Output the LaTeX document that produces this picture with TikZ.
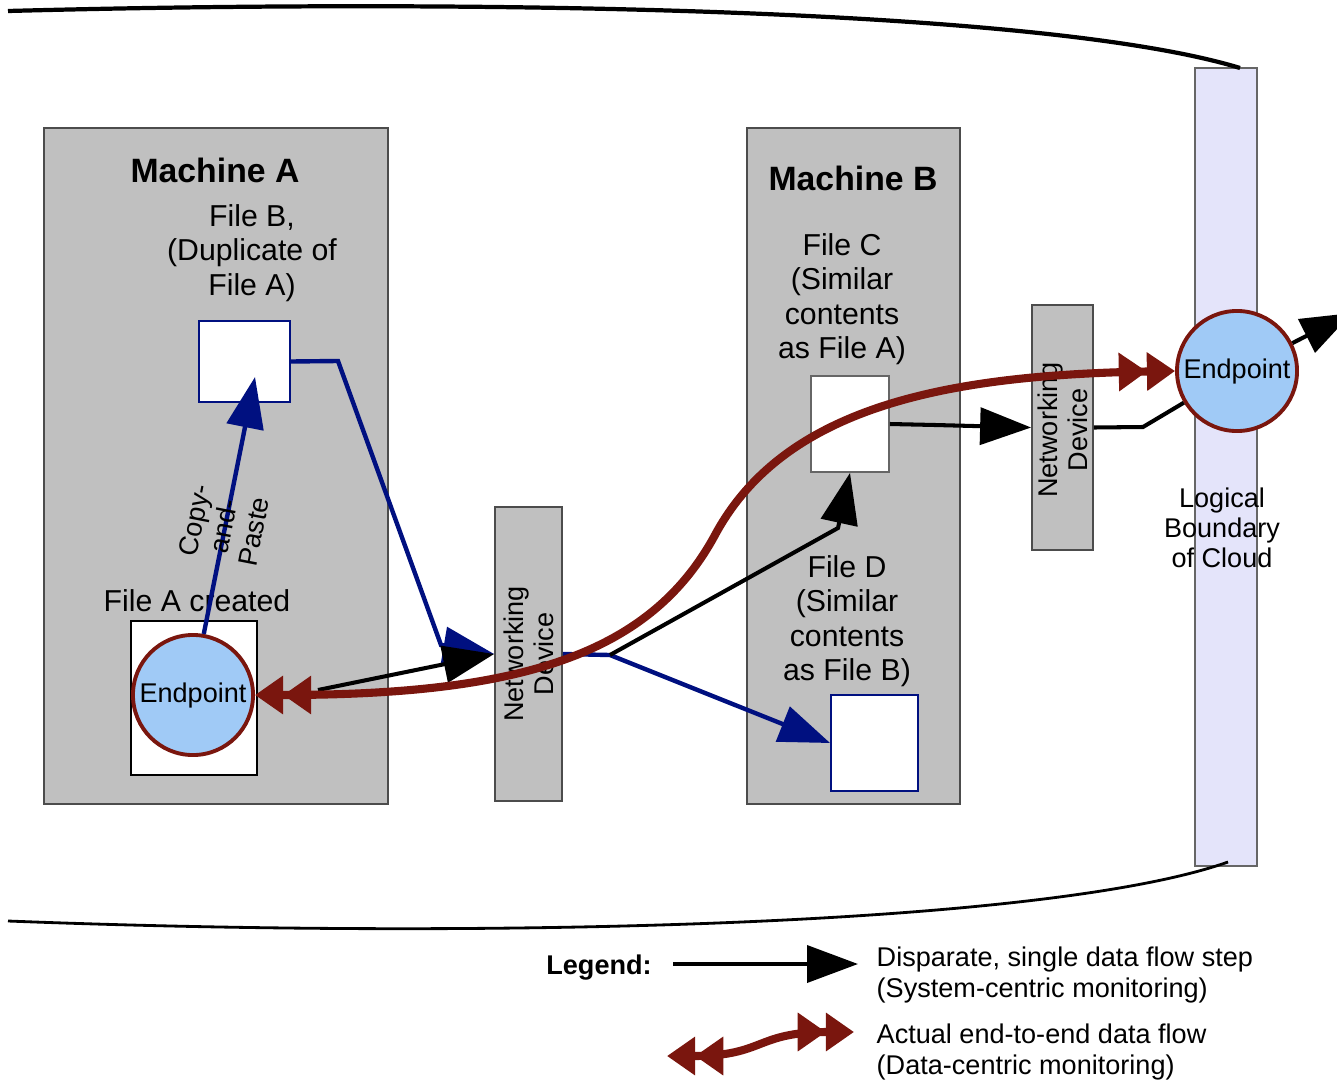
\documentclass[tikz,border=0pt]{standalone}
\usepackage{fontspec}
\setmainfont{Liberation Sans}
\usetikzlibrary{arrows.meta,calc}
\definecolor{boxgray}{RGB}{192,192,192}
\definecolor{epblue}{RGB}{160,202,246}
\definecolor{flowred}{RGB}{122,22,14}
\definecolor{navy}{RGB}{0,16,128}
\definecolor{cloudlav}{RGB}{228,228,250}
\newcommand{\txtmain}{\fontsize{8.6}{9.8}\selectfont}
\newcommand{\txtbig}{\fontsize{9.6}{11}\selectfont}
\newcommand{\txtsmall}{\fontsize{7.7}{8.6}\selectfont}

\tikzset{
  machine/.style={draw=black!70,fill=boxgray,line width=0.5pt,inner sep=0pt},
  filebox/.style={draw=#1,fill=white,line width=0.5pt,inner sep=0pt},
  endpoint/.style={circle,draw=flowred,fill=epblue,line width=1.1pt,
    minimum size=1.2cm,inner sep=0pt,font=\txtsmall},
  lbl/.style={inner sep=0pt,align=center,font=\txtmain},
  dbl/.tip={Triangle[length=8pt,width=10.5pt] Triangle[length=8pt,width=10.5pt]},
  sysflow/.style={draw=black,line width=1.15pt,-{Triangle[length=14.5pt,width=10.5pt]}},
  cpflow/.style={draw=navy,line width=1.25pt,-{Triangle[length=14.5pt,width=10.5pt]}},
  flow/.style={draw=flowred,line width=2.3pt,dbl-dbl}
}

\begin{document}
\begin{tikzpicture}[x=0.01cm,y=-0.01cm]
  \clip (0,0) rectangle (1337,1079);
  % cloud outline
  \node[draw=black!60,fill=cloudlav,line width=0.5pt,minimum width=0.62cm,minimum height=7.98cm] (cloud) at (1226,467) {};
  \draw[line width=1.2pt] (8,11) .. controls (500,-2) and (1050,10) .. (1240,68);
  \draw[line width=0.8pt] (8,921) .. controls (500,940) and (1050,925) .. (1228,862);
  \node[inner sep=0pt,align=center,font=\txtsmall] (cloudlbl) at (1222,528) {Logical\\Boundary\\of Cloud};

  % machines and devices
  \node[machine,minimum width=3.44cm,minimum height=6.76cm] (machA) at (216,466) {};
  \node[machine,minimum width=2.13cm,minimum height=6.76cm] (machB) at (853.5,466) {};
  \node[machine,minimum width=0.67cm,minimum height=2.94cm] (nd1) at (528.5,654) {};
  \node[machine,minimum width=0.61cm,minimum height=2.45cm] (nd2) at (1062.5,427.5) {};
  \node[rotate=90,inner sep=0pt,align=center,font=\txtsmall] at (nd1) {Networking\\Device};
  \node[rotate=90,inner sep=0pt,align=center,font=\txtsmall] at (1063,430) {Networking\\Device};

  \node[lbl,font=\bfseries\txtbig] (titleA) at (215,170) {Machine A};
  \node[lbl,font=\bfseries\txtbig] (titleB) at (853,178) {Machine B};
  \node[lbl] (lblB) at (252,253) {File B,\\(Duplicate of\\File A)};
  \node[lbl] (lblA) at (197,601) {File A created};
  \node[lbl] (lblC) at (842,299) {File C\\(Similar\\contents\\as File A)};
  \node[lbl] (lblD) at (847,621) {File D\\(Similar\\contents\\as File B)};

  % files
  \node[filebox=navy,minimum width=0.91cm,minimum height=0.81cm] (fileB) at (244.5,361.5) {};
  \node[filebox=black,minimum width=1.26cm,minimum height=1.54cm] (fileA) at (194,698) {};
  \node[filebox=black!60,minimum width=0.78cm,minimum height=0.96cm] (fileC) at (850,424) {};
  \node[filebox=navy,minimum width=0.87cm,minimum height=0.96cm] (fileD) at (874.5,743) {};
  \node[endpoint] (epA) at (193,695) {Endpoint};
  \node[endpoint] (epB) at (1237,371) {Endpoint};

  % single steps
  \coordinate (cpTip) at (255,377);
  \coordinate (aOut) at (318,690);
  \coordinate (split) at (610,655);
  \coordinate (outTip) at (1352,313);
  \draw[cpflow] (epA.80) -- (cpTip);
  \node[rotate=79,inner sep=0pt,align=center,font=\txtsmall] (cplbl) at (224,526) {Copy-\\and-\\Paste};
  \draw[cpflow] (fileB.east) -- (338,361) -- (441,645) -- (nd1.west);
  \draw[sysflow] (aOut) -- (nd1.west);
  \draw[cpflow] (nd1.east) -- (split) -- (fileD.west);
  \draw[sysflow] (split) -- (838,528) -- (fileC.south);
  \draw[sysflow] (fileC.east) -- (935,425) -- (nd2.west);
  \draw[black,line width=1.15pt] (nd2.east) -- (1143,427) -- (epB);
  \draw[sysflow] (epB) -- (outTip);

  % end-to-end flow
  \draw[flow] (epA.east) .. controls (520,695) and (650,655) .. (715,535)
    .. controls (785,405) and (950,375) .. (epB.west);

  % legend
  \node[inner sep=0pt,font=\bfseries\txtsmall] (legend) at (599,968) {Legend:};
  \coordinate (legBlkL) at (673,964);
  \coordinate (legBlkR) at (858,964);
  \draw[sysflow] (legBlkL) -- (legBlkR);
  \node[inner sep=0pt,anchor=west,align=left,font=\txtsmall] (legBlkTxt) at (876,975)
    {Disparate, single data flow step\\(System-centric monitoring)};
  \coordinate (legRedL) at (667,1056);
  \coordinate (legRedR) at (854,1032);
  \draw[flow] (legRedL) .. controls (765,1056) and (755,1032) .. (legRedR);
  \node[inner sep=0pt,anchor=west,align=left,font=\txtsmall] (legRedTxt) at (876,1052)
    {Actual end-to-end data flow\\(Data-centric monitoring)};
\end{tikzpicture}
\end{document}
